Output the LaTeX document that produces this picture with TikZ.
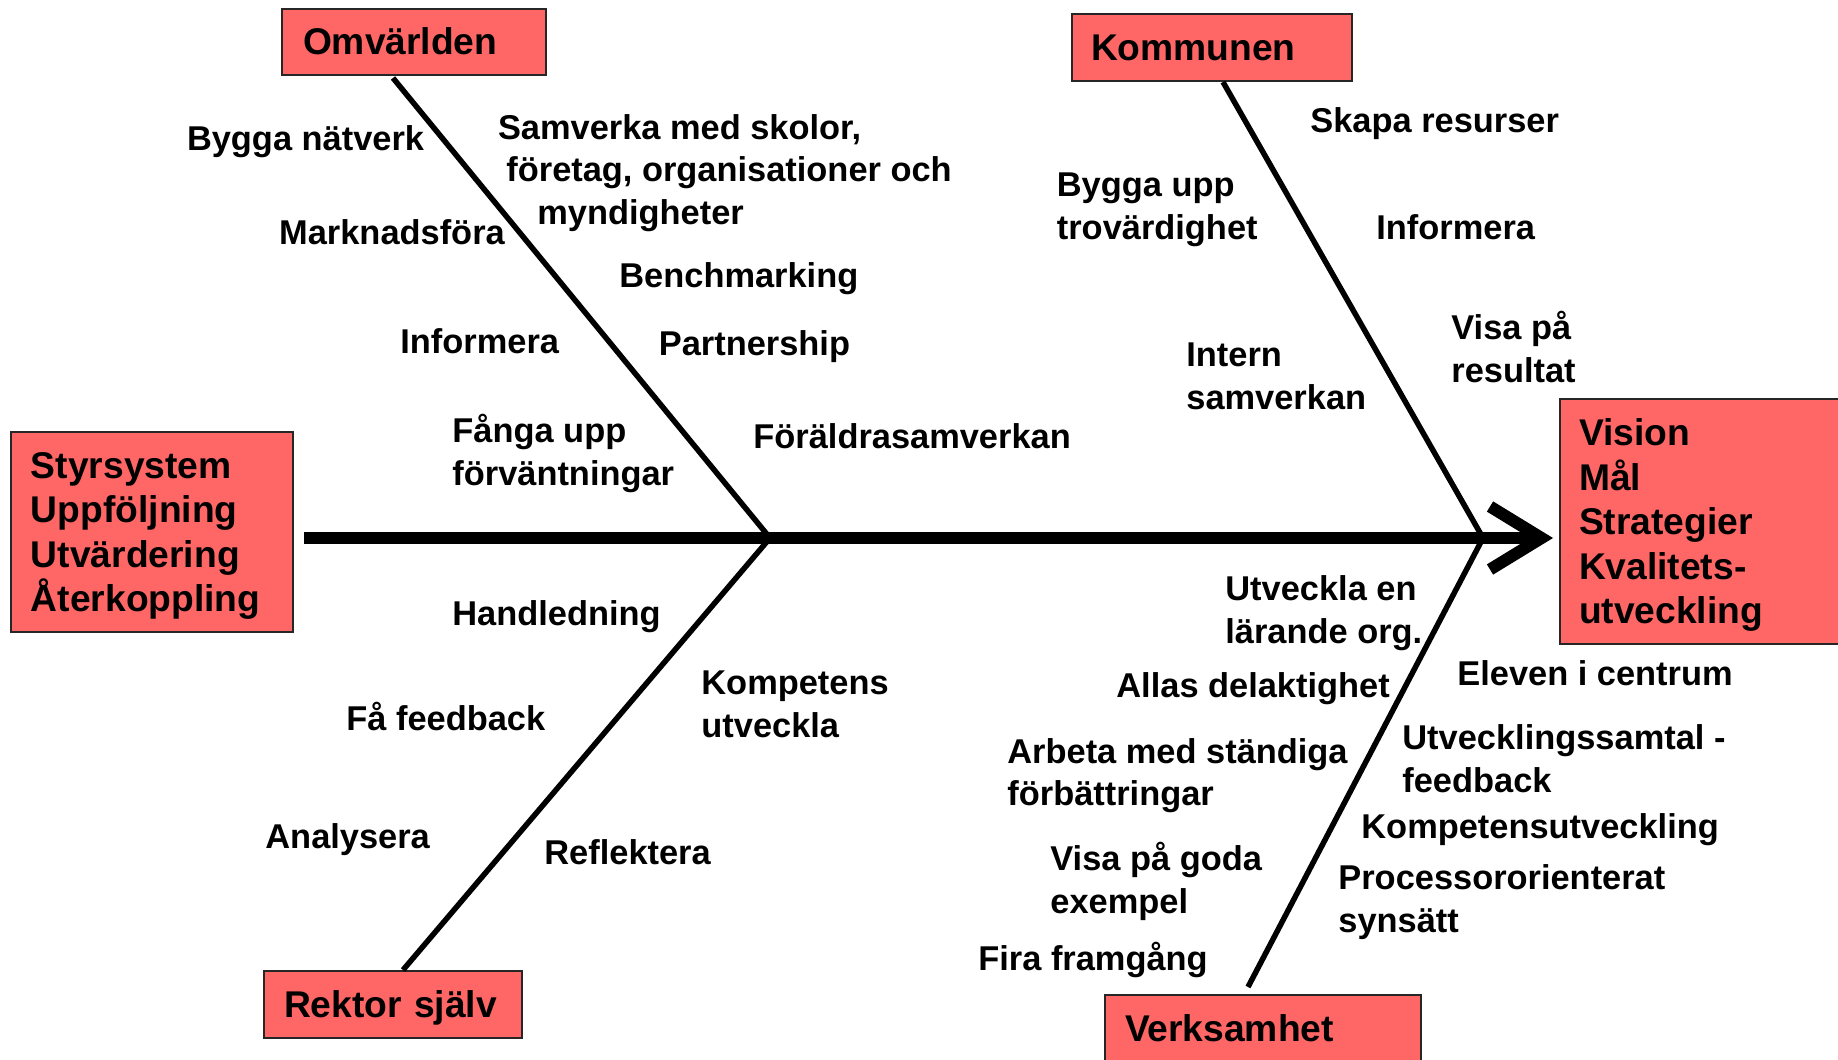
\documentclass[tikz,border=0pt]{standalone}
\usepackage{fontspec}
\setmainfont{Liberation Sans}
\usetikzlibrary{calc}
\definecolor{boxred}{RGB}{255,102,102}
\newcommand\bst{\rule[-0.21em]{0pt}{1.13em}}
\newcommand\est{\rule[-0.21em]{0pt}{0.5em}}
\begin{document}
\begin{tikzpicture}[x=0.5pt,y=-0.5pt,
  lbl/.style={anchor=west, inner sep=0pt, align=left, font=\bfseries\fontsize{17.2}{21.25}\selectfont},
  cbox/.style={draw=black!85, line width=1pt, fill=boxred, inner ysep=0pt, align=left, font=\bfseries\fontsize{18.6}{22.25}\selectfont},
  bone/.style={line width=2.75pt},
  spine/.style={line width=6pt}]
\useasboundingbox (0,0) rectangle (1838,1060);
\clip (0,0) rectangle (1838,1060);

% boxes
\node[cbox, minimum width=132pt, minimum height=33.25pt, inner xsep=10.5pt, text width=111pt] (omv) at (414,41.75) {\bst Omvärlden};
\node[cbox, minimum width=140pt, minimum height=33.5pt, inner xsep=9.5pt, text width=121pt] (kom) at (1212,47.5) {\bst Kommunen};
\node[cbox, minimum width=141.25pt, minimum height=100pt, inner xsep=10.25pt, text width=120.75pt] (sty) at (151.75,532) {\bst Styrsystem\\Uppföljning\\Utvärdering\\Återkoppling\est};
\node[cbox, minimum width=145pt, minimum height=122.5pt, inner xsep=9.5pt, text width=126pt] (vis) at (1705,521.5) {\bst Vision\\Mål\\Strategier\\Kvalitets-\\utveckling\est};
\node[cbox, minimum width=129pt, minimum height=33.5pt, inner xsep=10pt, text width=109pt] (rek) at (393,1004.5) {\bst Rektor själv};
\node[cbox, minimum width=158pt, minimum height=33.5pt, inner xsep=10pt, text width=138pt] (ver) at (1263,1028.5) {\bst Verksamhet};

% spine and arrow
\coordinate (tail) at (304,538);
\coordinate (tip) at (1541.5,538);
\coordinate (j1) at (770,538);
\coordinate (j2) at (1483,538);
\draw[spine] (tail) -- (tip);
\draw[spine, line join=miter, miter limit=10] ($(tip)+(-51.5,-31.5)$) -- (tip) -- ($(tip)+(-51.5,31.5)$);

% bones
\draw[bone] ($(omv.south)+(-21,2)$) -- (j1);
\draw[bone] (j1) -- ($(rek.north)+(10,0)$);
\draw[bone] ($(kom.south)+(11,0)$) -- (j2);
\draw[bone] (j2) -- ($(ver.north)+(-15,-7)$);

% labels
\node[lbl] (t1) at (186.6,138.6) {\bst Bygga nätverk};
\node[lbl] (t2) at (497.6,169.5) {\bst Samverka med skolor,\\\hspace*{4.2pt}företag, organisationer och\\\hspace*{19.7pt}myndigheter\est};
\node[lbl] (t3) at (278.8,232) {\bst Marknadsföra};
\node[lbl] (t4) at (619,275.5) {\bst Benchmarking};
\node[lbl] (t5) at (400,341) {\bst Informera};
\node[lbl] (t6) at (658.5,343) {\bst Partnership};
\node[lbl] (t7) at (452,452) {\bst Fånga upp\\förväntningar\est};
\node[lbl] (t8) at (753,436.5) {\bst Föräldrasamverkan};
\node[lbl] (t9) at (1310,120) {\bst Skapa resurser};
\node[lbl] (t10) at (1056.5,206) {\bst Bygga upp\\trovärdighet\est};
\node[lbl] (t11) at (1376,227) {\bst Informera};
\node[lbl] (t12) at (1451,349) {\bst Visa på\\resultat\est};
\node[lbl] (t13) at (1186,376) {\bst Intern\\samverkan\est};
\node[lbl] (t14) at (452,613) {\bst Handledning};
\node[lbl] (t15) at (346,718) {\bst Få feedback};
\node[lbl] (t16) at (701,704) {\bst Kompetens\\utveckla\est};
\node[lbl] (t17) at (265,836.5) {\bst Analysera};
\node[lbl] (t18) at (544,852) {\bst Reflektera};
\node[lbl] (t19) at (1225,610) {\bst Utveckla en\\lärande org.\est};
\node[lbl] (t20) at (1116,685.5) {\bst Allas delaktighet};
\node[lbl] (t21) at (1007,772.5) {\bst Arbeta med ständiga\\förbättringar\est};
\node[lbl] (t22) at (1050,880) {\bst Visa på goda\\exempel\est};
\node[lbl] (t23) at (978,958.5) {\bst Fira framgång};
\node[lbl] (t24) at (1457,673) {\bst Eleven i centrum};
\node[lbl] (t25) at (1402,759) {\bst Utvecklingssamtal -\\feedback\est};
\node[lbl] (t26) at (1361,826) {\bst Kompetensutveckling};
\node[lbl] (t27) at (1338,899) {\bst Processororienterat\\synsätt\est};
\end{tikzpicture}
\end{document}
